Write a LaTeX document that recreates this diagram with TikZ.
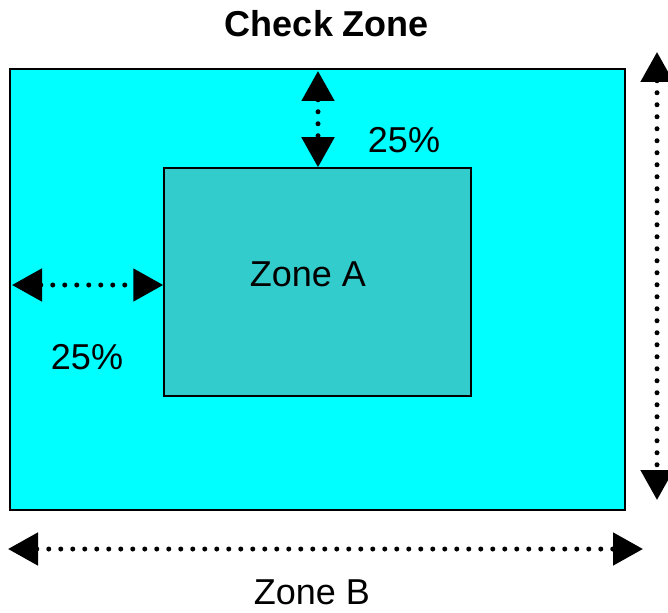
\documentclass[tikz,border=0pt]{standalone}
\usepackage{fontspec}
\setmainfont{Liberation Sans}
\usepackage{xcolor}
\usetikzlibrary{arrows.meta,positioning}
\definecolor{czoneb}{HTML}{00FFFF}
\definecolor{czonea}{HTML}{33CCCC}
\tikzset{
  zonebox/.style={draw=black,line width=1.5pt,inner sep=0pt,rectangle},
  span/.style={line width=5pt,line cap=round,dash pattern=on 0pt off 12pt,
    {Triangle[length=30pt,width=32pt]}-{Triangle[length=30pt,width=32pt]}},
  lbl/.style={font=\fontsize{36}{42}\selectfont,inner sep=0pt}
}

\begin{document}
\begin{tikzpicture}[x=1pt,y=-1pt]
\useasboundingbox (0,0) rectangle (668,612);

% ============ zones ============
\node[zonebox,fill=czoneb,minimum width=615pt,minimum height=441pt] (zoneB) at (317.5,289.5) {};
\node[zonebox,fill=czonea,minimum width=307pt,minimum height=228pt] (zoneA) at (317.5,282) {};
\node[lbl,font=\fontsize{36}{42}\selectfont\bfseries] (title) at (327,24) {Check Zone};
\node[lbl] (nameA) at (308,274) {Zone A};
\node[lbl] (nameB) at (312,592) {Zone B};

% ============ margins ============
\coordinate (topIn) at (318,71);
\coordinate (leftIn) at (12,285);
\draw[span] (topIn) -- (topIn |- zoneA.north);
\draw[span] (leftIn) -- (leftIn -| zoneA.west);
\node[lbl] (pctTop) at (404,140) {25\%};
\node[lbl] (pctLeft) at (87,357) {25\%};

% ============ overall size ============
\coordinate (vTop) at (657,52);
\coordinate (vBot) at (657,500);
\coordinate (hLeft) at (8,549);
\coordinate (hRight) at (643,549);
\draw[span] (vTop) -- (vBot);
\draw[span] (hLeft) -- (hRight);

\end{tikzpicture}
\end{document}
